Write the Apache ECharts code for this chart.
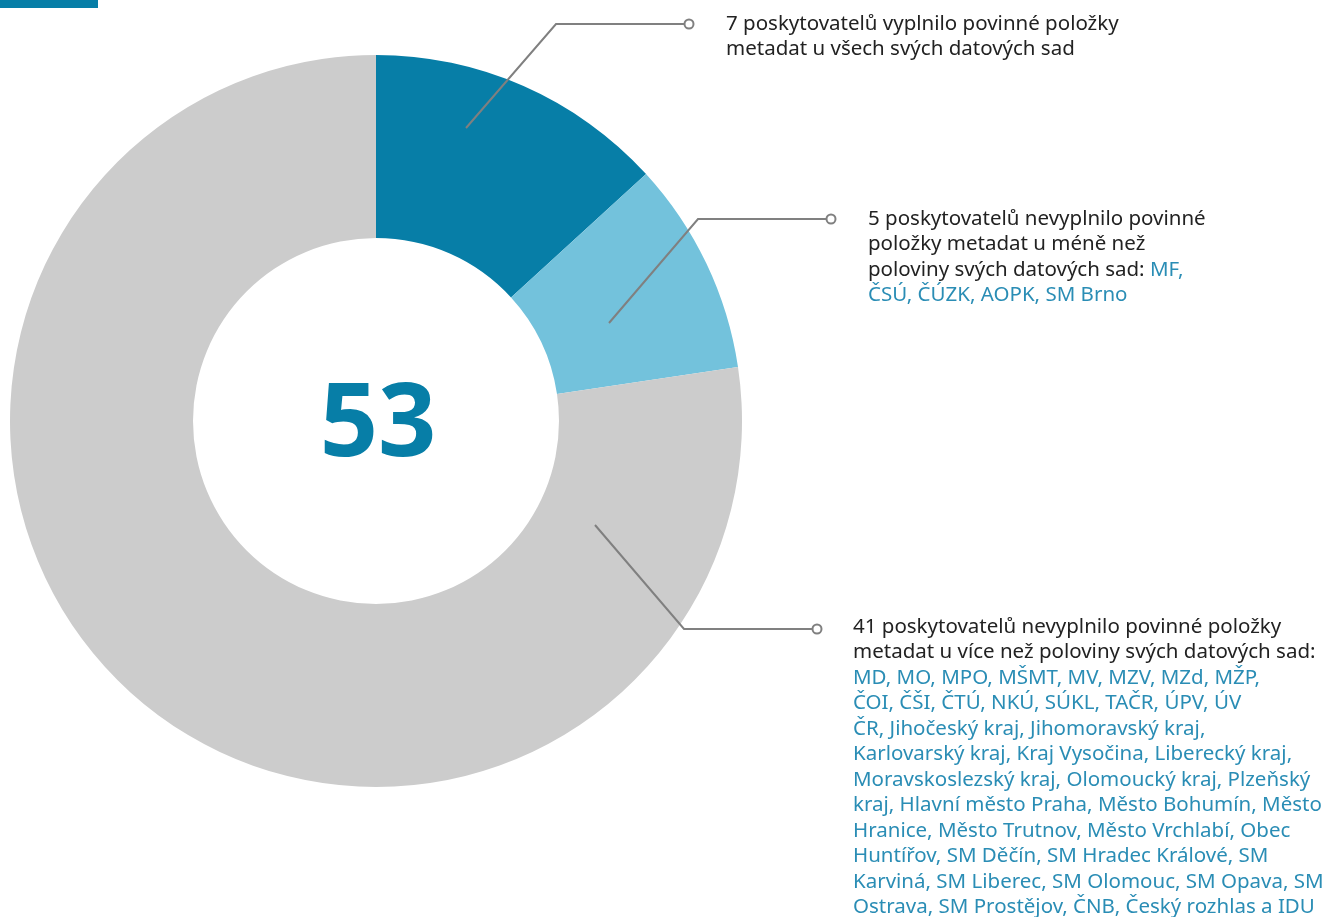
<!DOCTYPE html>
<html>
<head>
<meta charset="utf-8">
<script src="https://cdn.jsdelivr.net/npm/echarts@6/dist/echarts.min.js"></script>
<style>
  html, body { margin: 0; padding: 0; background: #fff; }
  #chart { width: 1337px; height: 917px; }
</style>
</head>
<body>
<div id="chart"></div>
<script>
  // data
  var categories = ['vyplnilo u všech', 'nevyplnilo u méně než poloviny', 'nevyplnilo u více než poloviny'];
  var values = [7, 5, 41];
  var total = 53;
  var labelMain = [
    '7 poskytovatelů vyplnilo povinné položky\nmetadat u všech svých datových sad',
    '5 poskytovatelů nevyplnilo povinné\npoložky metadat u méně než\npoloviny svých datových sad: ',
    '41 poskytovatelů nevyplnilo povinné položky\nmetadat u více než poloviny svých datových sad:\n'
  ];
  var labelNames = [
    '',
    'MF,\nČSÚ, ČÚZK, AOPK, SM Brno',
    'MD, MO, MPO, MŠMT, MV, MZV, MZd, MŽP,\nČOI, ČŠI, ČTÚ, NKÚ, SÚKL, TAČR, ÚPV, ÚV\nČR, Jihočeský kraj, Jihomoravský kraj,\nKarlovarský kraj, Kraj Vysočina, Liberecký kraj,\nMoravskoslezský kraj, Olomoucký kraj, Plzeňský\nkraj, Hlavní město Praha, Město Bohumín, Město\nHranice, Město Trutnov, Město Vrchlabí, Obec\nHuntířov, SM Děčín, SM Hradec Králové, SM\nKarviná, SM Liberec, SM Olomouc, SM Opava, SM\nOstrava, SM Prostějov, ČNB, Český rozhlas a IDU'
  ];

  var colors = ['#077ea7', '#73c2dc', '#cccccc'];
  var center = [376, 421];

  // leader lines: start inside slice, elbow, end (circle)
  var leaders = [
    [[466, 128], [556, 24], [684, 24]],
    [[609, 323], [698, 219], [826, 219]],
    [[595, 525], [684, 629], [812, 629]]
  ];
  var labelPos = [[726, 11], [868, 206], [853, 614]];

  var font = '"Noto Sans", "Open Sans", sans-serif';
  var graphics = [
    { type: 'rect', shape: { x: 0, y: 0, width: 98, height: 8 }, style: { fill: '#077ea7' } },
    {
      type: 'text', x: center[0] + 2, y: center[1] + 6,
      style: {
        text: String(total), fill: '#077ea7', font: 'bold 102px ' + font,
        textAlign: 'center', textVerticalAlign: 'middle'
      }
    }
  ];

  leaders.forEach(function (pts, i) {
    graphics.push({
      type: 'polyline', z: 10,
      shape: { points: pts },
      style: { stroke: '#808080', lineWidth: 2, fill: null }
    });
    var end = pts[pts.length - 1];
    graphics.push({
      type: 'circle', z: 11,
      shape: { cx: end[0] + 5, cy: end[1], r: 4.5 },
      style: { fill: '#fff', stroke: '#808080', lineWidth: 2 }
    });
    var txt = '{a|' + labelMain[i] + '}';
    if (labelNames[i]) txt += '{b|' + labelNames[i] + '}';
    graphics.push({
      type: 'text', x: labelPos[i][0], y: labelPos[i][1],
      style: {
        text: txt,
        textVerticalAlign: 'top',
        rich: {
          a: { fontFamily: font, fontSize: 20.5, lineHeight: 25.5, fill: '#222', color: '#222' },
          b: { fontFamily: font, fontSize: 20.5, lineHeight: 25.5, fill: '#2a8db5', color: '#2a8db5' }
        }
      }
    });
  });

  var chart = echarts.init(document.getElementById('chart'));
  chart.setOption({
    animation: false,
    series: [{
      type: 'pie',
      center: center,
      radius: [183, 366],
      startAngle: 90,
      clockwise: true,
      silent: true,
      label: { show: false },
      labelLine: { show: false },
      data: categories.map(function (c, i) {
        return { name: c, value: values[i], itemStyle: { color: colors[i] } };
      })
    }],
    graphic: graphics
  });
</script>
</body>
</html>
